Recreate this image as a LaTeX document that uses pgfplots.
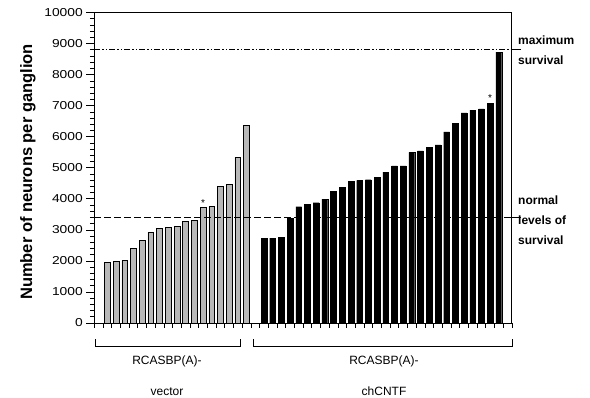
\documentclass[border=0pt]{standalone}
\usepackage{pgfplots}
\usepackage{pgfplotstable}
\pgfplotsset{compat=1.18}
\usepackage{fontspec}
\setmainfont{Liberation Sans}
\newfontfamily\tickfont[FakeStretch=1.2]{Liberation Sans}

\pgfplotstableread{
x y
1 1963
2 1985
3 2006
4 2414
5 2650
6 2918
7 3036
8 3079
9 3100
10 3272
11 3294
12 3712
13 3755
14 4399
15 4474
16 5333
17 6373
}\vectortable

\pgfplotstableread{
x y
19 2715
20 2736
21 2758
22 3380
23 3745
24 3830
25 3873
26 3991
27 4238
28 4378
29 4571
30 4592
31 4614
32 4700
33 4861
34 5064
35 5064
36 5494
37 5547
38 5665
39 5740
40 6159
41 6427
42 6770
43 6856
44 6899
45 7082
46 8723
}\cntftable

\begin{document}
\begin{tikzpicture}[x=1pt,y=1pt]
\begin{axis}[
  at={(94.25pt,75pt)}, anchor=south west,
  scale only axis, width=417.6pt, height=310.5pt,
  xmin=-0.5, xmax=47.5, ymin=0, ymax=10000,
  axis line style={line width=0.8pt},
  tick align=outside,
  xtick=\empty,
  extra x ticks={-0.5,0.5,...,47.5},
  extra x tick labels={},
  extra x tick style={major tick length=5pt, xtick pos=bottom},
  ytick={0,1000,...,10000},
  minor y tick num=4,
  major tick length=8pt,
  minor tick length=4.5pt,
  tick style={black, line width=0.6pt},
  xtick pos=bottom, ytick pos=left,
  yticklabel style={font=\tickfont\fontsize{11.5}{11.5}\selectfont},
  /pgf/number format/assume math mode=true,
  /pgf/number format/1000 sep={},
  scaled y ticks=false,
  clip=false,
]
\addplot[ybar, bar width=5.8pt, bar shift=0pt, fill=black!28, draw=black, line width=0.6pt] table[x=x,y=y]{\vectortable};
\addplot[ybar, bar width=5.8pt, bar shift=0pt, fill=black, draw=black] table[x=x,y=y]{\cntftable};
\addplot[draw=none, mark=none, nodes near coords={*},
  every node near coord/.append style={anchor=south, font=\fontsize{10}{10}\selectfont, inner sep=1.5pt}]
  coordinates {(12,3712) (45,7082)};
\addplot[black, line width=0.8pt, dash pattern=on 7pt off 3pt] coordinates {(-0.5,3400) (47.5,3400)};
\addplot[black, line width=0.7pt, dash pattern=on 6pt off 2pt on 1.5pt off 2pt on 1.5pt off 2pt] coordinates {(-0.5,8800) (47.5,8800)};
\draw[line width=0.6pt] (axis cs:47.5,8800) -- ++(5pt,0);
\draw[line width=0.6pt] (axis cs:47.5,3400) -- ++(5pt,0);
\end{axis}
\draw[line width=0.8pt] (95,58.7) -- (95,52) -- (240,52) -- (240,58.7);
\draw[line width=0.8pt] (253.3,58.7) -- (253.3,52) -- (512,52) -- (512,58.7);
\begin{scope}[every node/.style={inner sep=0pt, font=\fontsize{12}{12}\selectfont}]
\node[anchor=base] at (167,33) {RCASBP(A)-};
\node[anchor=base] at (167,2) {vector};
\node[anchor=base] at (384,33) {RCASBP(A)-};
\node[anchor=base] at (384,2) {chCNTF};
\end{scope}
\begin{scope}[every node/.style={inner sep=0pt, anchor=base west, font=\bfseries\fontsize{12}{12}\selectfont}]
\node at (518,353) {maximum};
\node at (518,333) {survival};
\node at (518,193) {normal};
\node at (518,173) {levels of};
\node at (518,153) {survival};
\end{scope}
\node[rotate=90, anchor=base, inner sep=0pt, font=\bfseries\fontsize{16.5}{16.5}\selectfont] at (32,226) {Number of neurons per ganglion};
\pgfresetboundingbox
\useasboundingbox (0,0) rectangle (590,398);
\end{tikzpicture}
\end{document}
